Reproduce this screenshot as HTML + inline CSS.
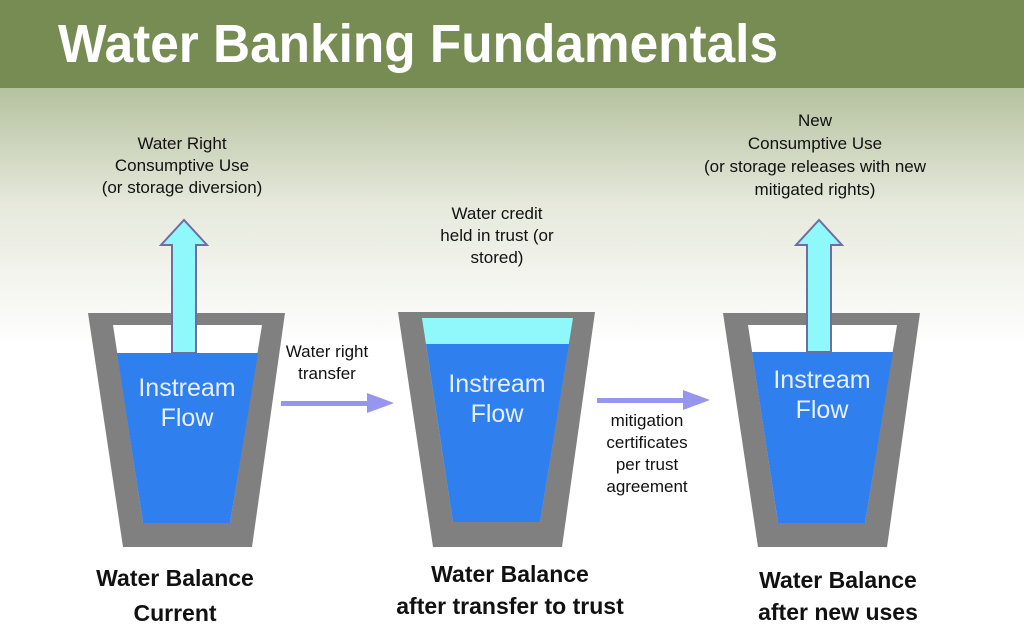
<!DOCTYPE html>
<html><head><meta charset="utf-8"><style>
html,body{margin:0;padding:0;width:1024px;height:635px;overflow:hidden}
svg{display:block;font-family:"Liberation Sans",Arial,sans-serif}
</style></head><body>
<svg width="1024" height="635" viewBox="0 0 1024 635">
<defs>
<linearGradient id="bg" x1="0" y1="0" x2="0" y2="1">
<stop offset="0" stop-color="#b5c29f"/>
<stop offset="0.45" stop-color="#e6e9dc"/>
<stop offset="1" stop-color="#ffffff"/>
</linearGradient>
</defs>
<rect x="0" y="88" width="1024" height="547" fill="#fff"/>
<rect x="0" y="88" width="1024" height="260" fill="url(#bg)"/>
<rect x="0" y="0" width="1024" height="88" fill="#768c52"/>
<text x="58" y="62" font-size="54" font-weight="bold" fill="#fff" textLength="720" lengthAdjust="spacingAndGlyphs">Water Banking Fundamentals</text>

<!-- cup 1 -->
<g>
<polygon points="88,313 285,313 252,547 123,547" fill="#808080"/>
<polygon points="113,325 262,325 230,523 143,523" fill="#fff"/>
<polygon points="117,353 258,353 230,523 143,523" fill="#2f7fef"/>
<polygon points="172,353 172,245 161,245 184,220 207,245 196,245 196,353" fill="#8ff8fa" stroke="#6e6fa0" stroke-width="2"/>
<text x="187" y="396" font-size="25" fill="#e8f0ff" text-anchor="middle">Instream</text>
<text x="187" y="426" font-size="25" fill="#e8f0ff" text-anchor="middle">Flow</text>
</g>
<!-- cup 2 -->
<g transform="translate(310,0)">
<polygon points="88,312 285,312 252,547 123,547" fill="#808080"/>
<polygon points="112,318 263,318 230,522 143,522" fill="#8ff8fa"/>
<polygon points="116,344 259,344 230,522 143,522" fill="#2f7fef"/>
<text x="187" y="392" font-size="25" fill="#e8f0ff" text-anchor="middle">Instream</text>
<text x="187" y="422" font-size="25" fill="#e8f0ff" text-anchor="middle">Flow</text>
</g>
<!-- cup 3 -->
<g transform="translate(635,0)">
<polygon points="88,313 285,313 252,547 123,547" fill="#808080"/>
<polygon points="113,325 262,325 230,523 143,523" fill="#fff"/>
<polygon points="117,352 258,352 230,523 143,523" fill="#2f7fef"/>
<polygon points="172,352 172,245 161,245 184,220 207,245 196,245 196,352" fill="#8ff8fa" stroke="#6e6fa0" stroke-width="2"/>
<text x="187" y="388" font-size="25" fill="#e8f0ff" text-anchor="middle">Instream</text>
<text x="187" y="418" font-size="25" fill="#e8f0ff" text-anchor="middle">Flow</text>
</g>

<!-- arrows -->
<rect x="281" y="401" width="88" height="5" fill="#9696ee"/>
<polygon points="367,393 394,403 367,413" fill="#9696ee"/>
<rect x="597" y="398" width="88" height="5" fill="#9696ee"/>
<polygon points="683,390 710,400 683,410" fill="#9696ee"/>

<g font-size="17" fill="#111" text-anchor="middle">
<text x="182" y="149">Water Right</text>
<text x="182" y="171">Consumptive Use</text>
<text x="182" y="193">(or storage diversion)</text>
<text x="327" y="357">Water right</text>
<text x="327" y="379">transfer</text>
<text x="497" y="219">Water credit</text>
<text x="497" y="241">held in trust (or</text>
<text x="497" y="263">stored)</text>
<text x="647" y="426">mitigation</text>
<text x="647" y="448">certificates</text>
<text x="647" y="470">per trust</text>
<text x="647" y="492">agreement</text>
<text x="815" y="126">New</text>
<text x="815" y="149">Consumptive Use</text>
<text x="815" y="172">(or storage releases with new</text>
<text x="815" y="195">mitigated rights)</text>
</g>
<g font-size="23" font-weight="bold" fill="#111" text-anchor="middle">
<text x="175" y="586">Water Balance</text>
<text x="175" y="621">Current</text>
<text x="510" y="582">Water Balance</text>
<text x="510" y="614">after transfer to trust</text>
<text x="838" y="588">Water Balance</text>
<text x="838" y="620">after new uses</text>
</g>
</svg>
</body></html>
